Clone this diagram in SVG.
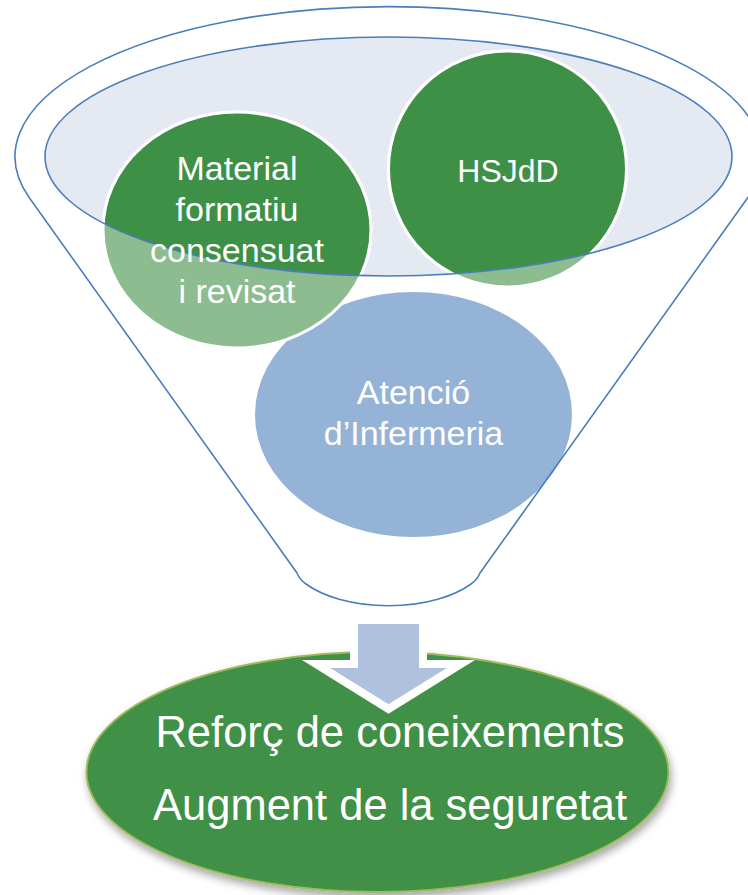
<svg xmlns="http://www.w3.org/2000/svg" width="748" height="895" viewBox="0 0 748 895">
<style>
.lbl{font-family:"Liberation Sans",Arial,sans-serif;fill:#ffffff;text-anchor:middle}
.m{font-size:34px}
.b{font-size:43.5px}
.outline{fill:none;stroke:#4A7EBB;stroke-width:1.6}
.light{fill:#8CBC90;stroke:#ffffff;stroke-width:3}
.dark{fill:#3F9047;stroke:#ffffff;stroke-width:3}
</style>
<defs>
<clipPath id="innerClip"><ellipse cx="388.5" cy="156.5" rx="343.5" ry="119.5"/></clipPath>
<filter id="shadow" x="-10%" y="-10%" width="120%" height="130%">
<feDropShadow dx="2" dy="5" stdDeviation="4" flood-color="#000" flood-opacity="0.35"/>
</filter>
</defs>
<rect width="748" height="895" fill="#ffffff"/>

<g id="funnel">
<path d="M29.5,198 L297,573 Q300,580 306,584 A100 50 0 0 0 471,584 Q477,580 480,573 L747.5,198 A373.5 150 0 1 0 29.5,198 Z" fill="#ffffff"/>
<ellipse cx="388.5" cy="156.5" rx="343.5" ry="119.5" fill="#E4E9F2"/>
</g>

<g id="node-atencio">
<ellipse cx="413.5" cy="414.5" rx="158.5" ry="122.5" fill="#95B3D7"/>
</g>

<g id="node-material">
<ellipse class="light" cx="237" cy="230" rx="134" ry="118"/>
<ellipse class="dark" cx="237" cy="230" rx="134" ry="118" clip-path="url(#innerClip)"/>
</g>

<g id="node-hsjdd">
<ellipse class="light" cx="507.5" cy="169" rx="119" ry="118"/>
<ellipse class="dark" cx="507.5" cy="169" rx="119" ry="118" clip-path="url(#innerClip)"/>
</g>

<g id="funnel-lines">
<ellipse class="outline" cx="388.5" cy="156.5" rx="343.5" ry="119.5"/>
<path class="outline" d="M29.5,198 L297,573 Q300,580 306,584 A100 50 0 0 0 471,584 Q477,580 480,573 L747.5,198 A373.5 150 0 1 0 29.5,198 Z"/>
</g>

<g id="labels">
<text class="lbl m" x="237" y="180">Material</text>
<text class="lbl m" x="237" y="221">formatiu</text>
<text class="lbl m" x="237" y="262">consensuat</text>
<text class="lbl m" x="237" y="303">i revisat</text>
<text class="lbl" style="font-size:32px" x="508" y="182">HSJdD</text>
<text class="lbl m" x="413.5" y="404">Atenció</text>
<text class="lbl m" x="413.5" y="445">d’Infermeria</text>
</g>

<g id="node-result">
<ellipse cx="377.5" cy="772" rx="291" ry="120" fill="#3F9047" stroke="#9BBB59" stroke-width="2" filter="url(#shadow)"/>
<text class="lbl b" x="390" y="747">Reforç de coneixements</text>
<text class="lbl b" x="390" y="820">Augment de la seguretat</text>
</g>

<g id="connectors">
<path d="M354,620 H423 V664 H461 L388.5,709 L316,664 H354 Z" fill="#B0C1DD" stroke="#ffffff" stroke-width="8" stroke-linejoin="miter"/>
</g>
</svg>
